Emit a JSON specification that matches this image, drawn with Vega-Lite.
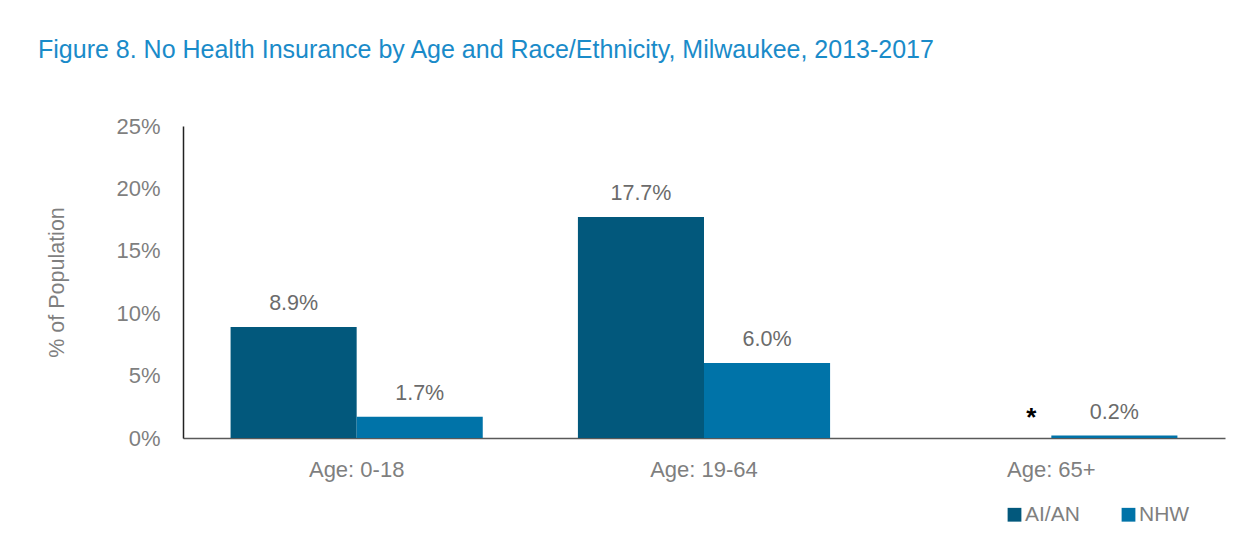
{
  "$schema": "https://vega.github.io/schema/vega-lite/v6.json",
  "width": 1042,
  "height": 312,
  "autosize": {"type": "none"},
  "padding": {"left": 183, "top": 126, "right": 32, "bottom": 104},
  "background": "white",
  "config": {
    "font": "Liberation Sans",
    "view": {"stroke": null}
  },
  "title": {
    "text": "Figure 8. No Health Insurance by Age and Race/Ethnicity, Milwaukee, 2013-2017",
    "anchor": "start",
    "frame": "group",
    "dx": -145,
    "dy": 36,
    "offset": 68,
    "baseline": "alphabetic",
    "fontSize": 25,
    "fontWeight": "normal",
    "color": "#1a8bc9",
    "font": "Liberation Sans"
  },
  "data": {
    "values": [
      {"age": "Age: 0-18", "group": "AI/AN", "value": 8.9, "label": "8.9%"},
      {"age": "Age: 0-18", "group": "NHW", "value": 1.7, "label": "1.7%"},
      {"age": "Age: 19-64", "group": "AI/AN", "value": 17.7, "label": "17.7%"},
      {"age": "Age: 19-64", "group": "NHW", "value": 6.0, "label": "6.0%"},
      {"age": "Age: 65+", "group": "AI/AN", "value": null, "label": "*"},
      {"age": "Age: 65+", "group": "NHW", "value": 0.2, "label": "0.2%"}
    ]
  },
  "encoding": {
    "x": {
      "field": "age",
      "type": "nominal",
      "sort": null,
      "scale": {"paddingInner": 0.274, "paddingOuter": 0.137},
      "axis": {
        "title": null,
        "labelAngle": 0,
        "labelFontSize": 22,
        "labelColor": "#7f7f7f",
        "labelPadding": 21,
        "ticks": false,
        "domainColor": "#595959",
        "domainWidth": 1.5,
        "labelFont": "Liberation Sans"
      }
    },
    "xOffset": {"field": "group", "type": "nominal", "sort": ["AI/AN", "NHW"], "scale": {"paddingInner": 0, "paddingOuter": 0}}
  },
  "layer": [
    {
      "mark": {"type": "bar"},
      "encoding": {
        "y": {
          "field": "value",
          "type": "quantitative",
          "scale": {"domain": [0, 25], "nice": false},
          "axis": {
            "title": "% of Population",
            "titleFontSize": 21.5,
            "titleFontWeight": "normal",
            "titleColor": "#7f7f7f",
            "titleFont": "Liberation Sans",
            "titleX": -126,
            "titleY": 156,
            "titleAlign": "center",
            "titleBaseline": "middle",
            "titleAngle": -90,
            "values": [0, 5, 10, 15, 20, 25],
            "labelExpr": "datum.value + '%'",
            "labelFontSize": 22,
            "labelColor": "#7f7f7f",
            "labelPadding": 23,
            "labelFont": "Liberation Sans",
            "ticks": false,
            "grid": false,
            "domainColor": "#222222",
            "domainWidth": 1.5
          }
        },
        "color": {
          "field": "group",
          "type": "nominal",
          "sort": ["AI/AN", "NHW"],
          "scale": {"domain": ["AI/AN", "NHW"], "range": ["#02587c", "#0073a8"]},
          "legend": {
            "title": null,
            "orient": "none",
            "legendX": 821,
            "legendY": 378,
            "direction": "horizontal",
            "symbolType": "square",
            "symbolSize": 190,
            "symbolStrokeWidth": 0,
            "labelFontSize": 21,
            "labelColor": "#7f7f7f",
            "labelFont": "Liberation Sans",
            "labelOffset": 0,
            "columnPadding": 38
          }
        }
      }
    },
    {
      "transform": [{"filter": "datum.value != null"}],
      "mark": {"type": "text", "baseline": "alphabetic", "dy": -17, "fontSize": 21.5, "color": "#6b6b6b", "font": "Liberation Sans"},
      "encoding": {
        "y": {"field": "value", "type": "quantitative"},
        "text": {"field": "label"}
      }
    },
    {
      "transform": [{"filter": "datum.value == null"}],
      "mark": {"type": "text", "baseline": "alphabetic", "dy": -12, "dx": 43, "fontSize": 26, "fontWeight": "bold", "color": "#000000", "font": "Liberation Sans"},
      "encoding": {
        "y": {"datum": 0, "type": "quantitative"},
        "text": {"field": "label"}
      }
    }
  ]
}
